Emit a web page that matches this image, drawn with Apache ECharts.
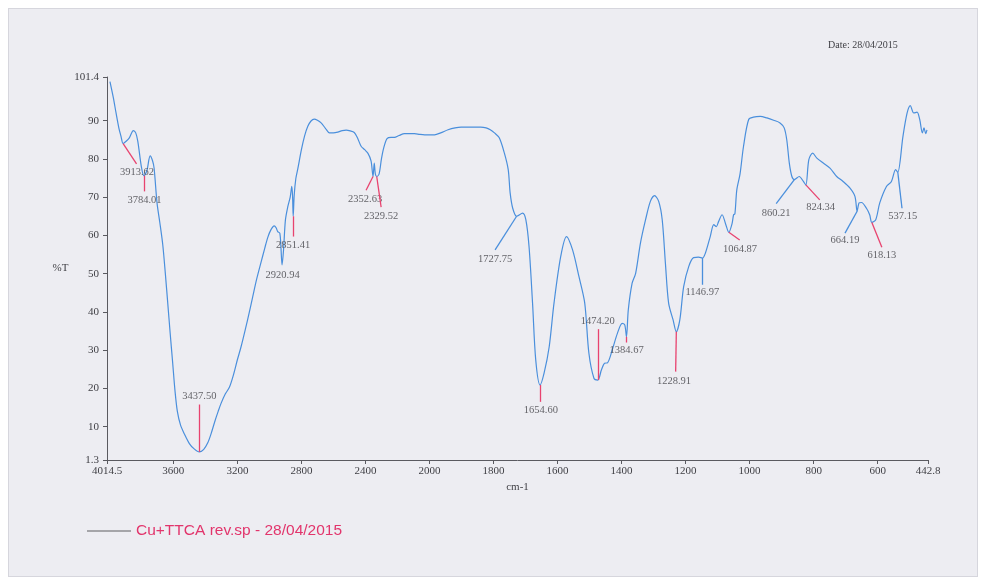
<!DOCTYPE html>
<html>
<head>
<meta charset="utf-8">
<script src="https://cdn.jsdelivr.net/npm/echarts@6/dist/echarts.min.js"></script>
<style>
  html, body { margin: 0; padding: 0; background: #ffffff; }
  #paper { position: absolute; left: 8px; top: 8px; width: 968px; height: 567px;
           background: #ededf2; border: 1px solid #d6d6dd; }
  #chart { position: absolute; left: 0; top: 0; width: 987px; height: 579px; }
</style>
</head>
<body>
<div id="paper"></div>
<div id="chart"></div>
<script>
// FT-IR spectrum: wavenumber (cm-1) vs transmittance (%T)
const wavenumbers = [
  3996, 3975, 3958, 3940, 3927, 3913.62, 3895, 3875, 3850, 3835, 3822, 3800, 3784.01, 3765, 3745, 3730, 3720,
  3702, 3685, 3666, 3650, 3635, 3620, 3604, 3590, 3575, 3555, 3530, 3500, 3470, 3437.50, 3410, 3385, 3364,
  3340, 3320, 3302, 3275, 3250, 3225, 3200, 3177, 3150, 3125, 3104, 3080, 3052, 3030, 3010, 2990, 2970,
  2958, 2948, 2935, 2928, 2920.94, 2912, 2900, 2885, 2870, 2860, 2855, 2851.41, 2845, 2835, 2822, 2800,
  2780, 2760, 2740, 2720, 2700, 2677, 2650, 2625, 2600, 2573, 2545, 2520, 2495, 2470, 2450, 2427, 2405,
  2385, 2365, 2352.63, 2345, 2338, 2329.52, 2315, 2300, 2285, 2265, 2240, 2219, 2190, 2156, 2120, 2094,
  2060, 2030, 2000, 1984, 1965, 1942, 1920, 1901, 1880, 1860, 1840, 1823, 1810, 1797, 1782, 1766, 1754,
  1748, 1740, 1727.75, 1709, 1699, 1689, 1678, 1668, 1654.60, 1642, 1626, 1611, 1590, 1572, 1553, 1533,
  1515, 1502, 1486, 1474.20, 1463, 1453, 1444, 1429, 1413, 1398, 1390, 1384.67, 1379, 1367, 1356, 1341,
  1325, 1310, 1297, 1284, 1273, 1263, 1253, 1239, 1228.91, 1218, 1206, 1190, 1175, 1160, 1146.97, 1138,
  1123, 1112, 1104, 1097, 1086, 1075, 1064.87, 1055, 1050, 1046, 1040, 1030, 1019, 1003, 988, 967, 946,
  925, 905, 892, 884, 876, 868, 860.21, 845, 832, 824.34, 815, 803, 790, 770, 749, 728, 708, 687, 671,
  664.19, 658, 650.5, 635, 625, 618.13, 606, 593.5, 572.6, 557, 544, 537.15, 521, 508, 498, 487.4, 477,
  468.7, 460.3, 455.3, 450, 446
];
const transmittance = [
  100.2, 96.0, 92.0, 88.0, 85.9, 84.0, 84.6, 85.5, 87.4, 86.8, 84.6, 78.0, 75.6, 77.0, 80.8, 79.5, 77.5,
  68.5, 63.5, 57.5, 50.0, 42.3, 34.5, 26.6, 19.5, 14.0, 10.4, 8.0, 5.6, 4.2, 3.4, 4.1, 5.8, 8.2,
  11.5, 14.0, 16.1, 18.6, 20.3, 23.5, 27.5, 30.9, 35.5, 40.0, 44.0, 48.5, 53.0, 56.5, 59.5, 61.5, 62.5,
  62.0, 61.0, 60.6, 57.0, 52.3, 56.0, 64.0, 67.5, 70.0, 72.8, 70.0, 65.0, 70.5, 74.8, 77.5, 82.4,
  86.0, 88.5, 89.9, 90.4, 90.1, 89.4, 88.0, 86.8, 86.8, 87.0, 87.4, 87.5, 87.3, 86.9, 85.5, 83.3, 82.4,
  81.5, 79.5, 75.4, 78.9, 76.0, 75.4, 76.0, 80.0, 83.0, 85.3, 85.6, 85.6, 86.1, 86.6, 86.6, 86.6,
  86.4, 86.3, 86.3, 86.3, 86.8, 87.6, 88.1, 88.3, 88.3, 88.3, 88.3, 88.1, 87.6, 86.8, 85.5, 81.5, 77.2,
  71.1, 67.1, 65.0, 65.8, 64.1, 57.1, 42.3, 27.4, 20.9, 24.0, 30.9, 42.3, 54.5, 59.7, 56.2, 49.2,
  42.3, 29.2, 22.6, 22.2, 24.8, 26.6, 26.7, 30.1, 34.4, 37.0, 36.6, 33.5, 40.5, 47.5, 50.1, 58.0,
  64.1, 68.9, 70.4, 68.9, 64.1, 52.7, 42.3, 37.9, 34.8, 37.9, 46.6, 51.9, 54.2, 54.3, 54.1, 55.4,
  59.7, 62.8, 62.3, 63.6, 65.4, 63.0, 60.8, 63.0, 65.4, 65.6, 71.9, 76.0, 83.3, 90.3, 90.9, 91.1, 90.7,
  90.1, 89.4, 88.1, 85.0, 78.9, 75.4, 74.6, 75.4, 74.1, 73.2, 79.8, 81.5, 80.2, 78.9, 77.6, 75.4, 74.1, 72.4, 70.2,
  66.3, 68.5, 68.6, 67.1, 65.4, 63.4, 64.1, 68.5, 72.8, 74.1, 77.2, 76.5, 85.9, 92.0, 93.9, 92.0, 92.2,
  90.3, 86.8, 88.1, 86.6, 87.6
];

// Labelled peaks (wavenumber, %T at the peak)
const peakWavenumbers = [3913.62, 3784.01, 3437.50, 2920.94, 2851.41, 2352.63, 2329.52, 1727.75, 1654.60,
  1474.20, 1384.67, 1228.91, 1146.97, 1064.87, 860.21, 824.34, 664.19, 618.13, 537.15];
const peakTransmittance = [84.0, 75.6, 3.4, 52.3, 65.0, 75.4, 75.4, 65.0, 20.9,
  22.2, 33.5, 34.8, 54.1, 60.8, 74.6, 73.2, 66.3, 63.4, 76.5];

// Axis ticks
const xTickValues = [4014.5, 3600, 3200, 2800, 2400, 2000, 1800, 1600, 1400, 1200, 1000, 800, 600, 442.8];
const xTickLabels = ['4014.5', '3600', '3200', '2800', '2400', '2000', '1800', '1600', '1400', '1200', '1000', '800', '600', '442.8'];
const yTickValues = [1.3, 10, 20, 30, 40, 50, 60, 70, 80, 90, 101.4];
const yTickLabels = ['1.3', '10', '20', '30', '40', '50', '60', '70', '80', '90', '101.4'];

// Annotation layout: leader end point and label centre for each peak, in data units.
// kind: 'r' red leader, 'b' blue leader, '' no leader
const noteLayout = [
  { end: [3830, 78.7], label: [3827, 76.4], kind: 'r' },
  { end: [3782, 71.5], label: [3780, 69.3], kind: 'r' },
  { end: [3437.5, 15.8], label: [3437.5, 17.9], kind: 'r' },
  { end: null, label: [2917, 49.7], kind: '' },
  { end: [2851.41, 59.7], label: [2851.41, 57.5], kind: 'r' },
  { end: [2396, 71.8], label: [2402, 69.5], kind: 'r' },
  { end: [2302, 67.4], label: [2302, 65.0], kind: 'r' },
  { end: [1795, 56.2], label: [1795, 53.8], kind: 'b' },
  { end: [1654.6, 16.5], label: [1652, 14.2], kind: 'r' },
  { end: [1474.2, 35.5], label: [1474.2, 37.6], kind: 'r' },
  { end: [1384, 32.0], label: [1384, 30.1], kind: 'r' },
  { end: [1231, 24.4], label: [1236, 22.0], kind: 'r' },
  { end: [1146.97, 47.1], label: [1147.6, 45.1], kind: 'b' },
  { end: [1031, 58.8], label: [1030, 56.4], kind: 'r' },
  { end: [917, 68.3], label: [917, 65.8], kind: 'b' },
  { end: [781, 69.3], label: [778, 67.4], kind: 'r' },
  { end: [702, 60.6], label: [702, 58.7], kind: 'b' },
  { end: [587, 56.9], label: [587, 54.7], kind: 'r' },
  { end: [524, 67.1], label: [521.7, 65.0], kind: 'b' }
];

// Spectrometer plots use a 2x compressed scale above 2000 cm-1
const toAxis = wn => (wn <= 2000 ? wn : 2000 + (wn - 2000) / 2);
const fromAxis = v => (v <= 2000 ? v : 2000 + (v - 2000) * 2);

const CURVE = '#4a8fdc';
const LEADER_RED = '#e8436f';
const TEXT = '#3f3f44';
const SERIF = '"Liberation Serif", "DejaVu Serif", serif';

const curveData = wavenumbers.map((w, i) => [toAxis(w), transmittance[i]]);

const leaders = [];
const labels = [];
peakWavenumbers.forEach((w, i) => {
  const n = noteLayout[i];
  if (n.end) {
    const style = { color: n.kind === 'b' ? CURVE : LEADER_RED, width: 1.3, type: 'solid', opacity: 1 };
    leaders.push([
      { coord: [toAxis(w), peakTransmittance[i]], lineStyle: style },
      { coord: [toAxis(n.end[0]), n.end[1]], lineStyle: style }
    ]);
  }
  labels.push([toAxis(n.label[0]), n.label[1], w.toFixed(2)]);
});

const chart = echarts.init(document.getElementById('chart'), null, { renderer: 'canvas' });
chart.setOption({
  animation: false,
  backgroundColor: 'transparent',
  textStyle: { fontFamily: SERIF },
  grid: { left: 107, right: 59, top: 77, bottom: 119 },
  legend: {
    data: [{ name: 'Cu+TTCA rev.sp - 28/04/2015', itemStyle: { color: '#8c8c90' } }],
    left: 82, top: 518,
    icon: 'rect', itemWidth: 44, itemHeight: 1.5,
    textStyle: { color: '#e2356c', fontSize: 15.5, fontFamily: '"Liberation Sans", Arial, sans-serif' }
  },
  graphic: [
    { type: 'text', left: 828, top: 40,
      style: { text: 'Date: 28/04/2015', fill: TEXT, font: '10px ' + SERIF } }
  ],
  xAxis: {
    type: 'value', inverse: true,
    min: toAxis(442.8), max: toAxis(4014.5),
    name: 'cm-1', nameLocation: 'middle', nameGap: 27,
    nameTextStyle: { color: TEXT, fontSize: 11, fontFamily: SERIF, align: 'center', verticalAlign: 'middle' },
    axisLine: { lineStyle: { color: '#5a5a60', width: 1 } },
    axisTick: { show: true, length: 4, customValues: xTickValues.map(toAxis), lineStyle: { color: '#5a5a60' } },
    axisLabel: {
      customValues: xTickValues.map(toAxis), margin: 6,
      color: TEXT, fontSize: 11, fontFamily: SERIF,
      formatter: v => {
        const w = fromAxis(v);
        const i = xTickValues.findIndex(t => Math.abs(t - w) < 0.05);
        return i >= 0 ? xTickLabels[i] : '';
      }
    },
    splitLine: { show: false }
  },
  yAxis: {
    type: 'value', min: 1.3, max: 101.4,
    name: '%T', nameLocation: 'middle', nameRotate: 0, nameGap: 43,
    nameTextStyle: { color: TEXT, fontSize: 11, fontFamily: SERIF, align: 'center', verticalAlign: 'middle' },
    axisLine: { show: true, lineStyle: { color: '#5a5a60', width: 1 } },
    axisTick: { show: true, length: 4, customValues: yTickValues, lineStyle: { color: '#5a5a60' } },
    axisLabel: {
      customValues: yTickValues, margin: 8,
      color: TEXT, fontSize: 11, fontFamily: SERIF,
      formatter: v => {
        const i = yTickValues.findIndex(t => Math.abs(t - v) < 0.01);
        return i >= 0 ? yTickLabels[i] : '';
      }
    },
    splitLine: { show: false }
  },
  series: [
    {
      name: 'Cu+TTCA rev.sp - 28/04/2015',
      type: 'line',
      data: curveData,
      showSymbol: false,
      smooth: 0.3,
      lineStyle: { color: CURVE, width: 1.2 },
      itemStyle: { color: CURVE },
      markLine: {
        silent: true,
        symbol: ['none', 'none'],
        label: { show: false },
        emphasis: { disabled: true },
        data: leaders
      },
      z: 3
    },
    {
      name: 'peaks',
      type: 'scatter',
      data: labels,
      symbolSize: 0,
      silent: true,
      label: {
        show: true, position: 'inside',
        formatter: p => p.data[2],
        color: TEXT, fontSize: 10.5, fontFamily: SERIF
      },
      z: 4
    }
  ]
});
</script>
</body>
</html>
